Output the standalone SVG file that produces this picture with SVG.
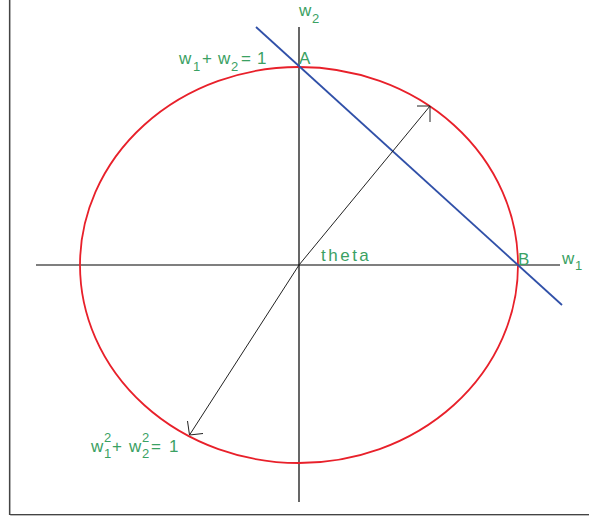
<svg xmlns="http://www.w3.org/2000/svg" width="589" height="518" viewBox="0 0 589 518">
<defs>
<style>
.lbl{font-family:"Liberation Sans",Arial,sans-serif;font-size:17px;fill:#3aa163}
.sub{font-size:13px}
.ax{stroke:#000;stroke-width:1.2;fill:none}
.vec{stroke:#222;stroke-width:1;fill:none}
</style>
</defs>
<rect width="589" height="518" fill="#fff"/>
<g id="frame">
<path d="M10.5 0V515.5H589" fill="none" stroke="#bbb" stroke-width="1"/>
<path d="M9.5 0V514.5H589" fill="none" stroke="#444" stroke-width="1.2"/>
</g>
<g id="axes">
<line class="ax" x1="36" y1="265" x2="560" y2="265"/>
<line class="ax" x1="299" y1="27" x2="299" y2="502"/>
</g>
<g id="circle">
<ellipse cx="299" cy="265" rx="219" ry="198" fill="none" stroke="#e8202a" stroke-width="1.8"/>
</g>
<g id="line">
<line x1="256" y1="27" x2="562" y2="305" stroke="#3050a8" stroke-width="1.8"/>
</g>
<g id="connectors">
<line class="vec" x1="299" y1="265" x2="430" y2="106"/>
<path class="vec" d="M417 106H430V122"/>
<line class="vec" x1="299" y1="265" x2="189.5" y2="435"/>
<path class="vec" d="M187.5 421L189.5 435L203 433.5"/>
</g>
<g id="labels">
<text class="lbl" x="299" y="16">w</text><text class="lbl sub" x="312" y="23">2</text>
<text class="lbl" x="179" y="64">w</text><text class="lbl sub" x="193" y="71">1</text><text class="lbl" x="202" y="64">+</text><text class="lbl" x="218" y="64">w</text><text class="lbl sub" x="231" y="71">2</text><text class="lbl" x="241" y="64">=</text><text class="lbl" x="257" y="64">1</text>
<text class="lbl" x="299" y="64">A</text>
<text class="lbl" x="321" y="261" letter-spacing="2.5">theta</text>
<text class="lbl" x="518" y="265">B</text>
<text class="lbl" x="562" y="264">w</text><text class="lbl sub" x="575" y="270">1</text>
<text class="lbl" x="91" y="452">w</text><text class="lbl sub" x="104" y="442">2</text><text class="lbl sub" x="104" y="458">1</text><text class="lbl" x="112" y="452">+</text><text class="lbl" x="129" y="452">w</text><text class="lbl sub" x="142" y="442">2</text><text class="lbl sub" x="142" y="458">2</text><text class="lbl" x="151" y="452">=</text><text class="lbl" x="169" y="452">1</text>
</g>
</svg>
